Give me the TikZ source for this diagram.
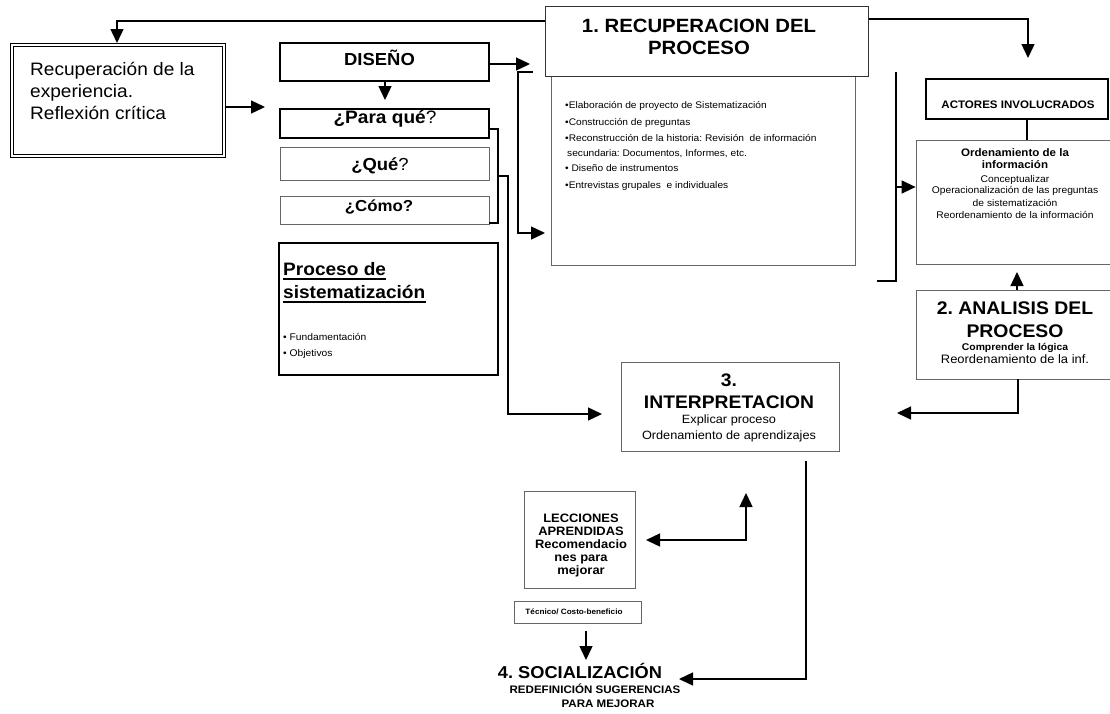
\documentclass[tikz,border=0pt]{standalone}
\usepackage{fontspec}
\setmainfont{Liberation Sans}[FakeStretch=1.06]
\usetikzlibrary{arrows.meta,calc}
\newcommand\fsz[2]{\fontsize{#1}{#2}\selectfont}
\frenchspacing
\begin{document}
\begin{tikzpicture}[x=1pt,y=-1pt,
  thickbox/.style={draw=black, line width=1.5pt, inner sep=0pt, fill=white},
  thinbox/.style={draw=black!60, line width=0.8pt, inner sep=0pt, fill=white},
  headbox/.style={draw=black!80, line width=1pt, inner sep=0pt, fill=white},
  conn/.style={line width=1.4pt, black},
  arr/.style={conn, -{Triangle[length=14pt,width=13pt]}},
  darr/.style={conn, {Triangle[length=14pt,width=13pt]}-{Triangle[length=14pt,width=13pt]}},
  lbl/.style={inner sep=0pt, anchor=base},
  lblw/.style={inner sep=0pt, anchor=base west},
]
\fill[white] (0,0) rectangle (1110,713);
\useasboundingbox (0,0) rectangle (1110,713);

% ---------- boxes ----------
\node[draw, double, line width=1pt, double distance=1.6pt, inner sep=0pt,
      minimum width=212pt, minimum height=111pt] (rec) at (118,100.5) {};
\node[thickbox, minimum width=209pt, minimum height=38pt] (diseno) at (384.5,62) {};
\node[thickbox, minimum width=209pt, minimum height=29pt] (para) at (384.5,123.5) {};
\node[thinbox, minimum width=209pt, minimum height=33pt] (que) at (384.5,163.5) {};
\node[thinbox, minimum width=209pt, minimum height=28pt] (como) at (384.5,210) {};
\node[thickbox, minimum width=219pt, minimum height=132pt] (proc) at (388.5,309) {};
\node[thinbox, minimum width=304pt, minimum height=189pt] (boxb) at (703,170.5) {};
\node[headbox, minimum width=323pt, minimum height=70pt] (boxh) at (706.5,41) {};
\node[thickbox, minimum width=182pt, minimum height=40pt] (actores) at (1017,99) {};
\node[thinbox, minimum width=195pt, minimum height=124pt] (orden) at (1013.5,202) {};
\node[thinbox, minimum width=195pt, minimum height=89pt] (analisis) at (1013.5,334.5) {};
\node[thinbox, minimum width=218pt, minimum height=89pt] (interp) at (730,406.5) {};
\node[thinbox, minimum width=111pt, minimum height=97pt] (lecc) at (579.5,539.5) {};
\node[thinbox, minimum width=127pt, minimum height=22pt] (tecn) at (577.5,612) {};

% ---------- texts ----------
\node[lblw, font=\fsz{18}{20}] (rt1) at (30,75) {Recuperación de la};
\node[lblw, font=\fsz{18}{20}] (rt2) at (30,97) {experiencia.};
\node[lblw, font=\fsz{18}{20}] (rt3) at (30,119) {Reflexión crítica};

\node[lbl, font=\fsz{17.4}{19}\bfseries] (dt) at (379.5,65) {DISEÑO};
\node[lbl, font=\fsz{18}{19}] (pt) at (385,123) {{\bfseries ¿Para qué}?};
\node[lbl, font=\fsz{17.4}{19}] (qt) at (380,170) {{\bfseries ¿Qué}?};
\node[lbl, font=\fsz{15.9}{18}\bfseries] (ct) at (379,211) {¿Cómo?};

\node[lblw, font=\fsz{18}{20}\bfseries] (p1) at (283,275) {Proceso de};
\node[lblw, font=\fsz{18}{20}\bfseries] (p2) at (283,298) {sistematización};
\draw[line width=1.3pt] ($(p1.base west)+(0,4)$) -- ($(p1.base east)+(0,4)$);
\draw[line width=1.3pt] ($(p2.base west)+(0,4)$) -- ($(p2.base east)+(0,4)$);
\node[lblw, font=\fsz{9.7}{11}] (pb1) at (283,340) {• Fundamentación};
\node[lblw, font=\fsz{9.7}{11}] (pb2) at (283,356) {• Objetivos};

\node[lbl, font=\fsz{19.2}{21}\bfseries] (h1) at (699,32) {1. RECUPERACION DEL};
\node[lbl, font=\fsz{19.2}{21}\bfseries] (h2) at (699,54) {PROCESO};
\node[lblw, font=\fsz{9.6}{11}] (u1) at (565,108) {•Elaboración de proyecto de Sistematización};
\node[lblw, font=\fsz{9.6}{11}] (u2) at (565,125) {•Construcción de preguntas};
\node[lblw, font=\fsz{9.6}{11}] (u3) at (565,141) {•Reconstrucción de la historia: Revisión\ \ de información};
\node[lblw, font=\fsz{9.6}{11}] (u4) at (567,156) {secundaria: Documentos, Informes, etc.};
\node[lblw, font=\fsz{9.6}{11}] (u5) at (565,171) {• Diseño de instrumentos};
\node[lblw, font=\fsz{9.6}{11}] (u6) at (565,188) {•Entrevistas grupales\ \ e individuales};

\node[lbl, font=\fsz{10.9}{12}\bfseries] (at) at (1018,108) {ACTORES INVOLUCRADOS};

\node[lbl, font=\fsz{10.9}{12}\bfseries] (o1) at (1015,156) {Ordenamiento de la};
\node[lbl, font=\fsz{10.9}{12}\bfseries] (o2) at (1015,168) {información};
\node[lbl, font=\fsz{9.7}{11}] (o3) at (1015,182) {Conceptualizar};
\node[lbl, font=\fsz{9.7}{11}] (o4) at (1015,193) {Operacionalización de las preguntas};
\node[lbl, font=\fsz{9.7}{11}] (o5) at (1015,206) {de sistematización};
\node[lbl, font=\fsz{9.7}{11}] (o6) at (1015,218) {Reordenamiento de la información};

\node[lbl, font=\fsz{18.3}{20}\bfseries] (n1) at (1015,314) {2. ANALISIS DEL};
\node[lbl, font=\fsz{18.3}{20}\bfseries] (n2) at (1015,337) {PROCESO};
\node[lbl, font=\fsz{9.8}{11}\bfseries] (n3) at (1015,350) {Comprender la lógica};
\node[lbl, font=\fsz{12.2}{13}] (n4) at (1015,363) {Reordenamiento de la inf.};

\node[lbl, font=\fsz{18.2}{20}\bfseries] (i1) at (729,386) {3.};
\node[lbl, font=\fsz{18.2}{20}\bfseries] (i2) at (729,408) {INTERPRETACION};
\node[lbl, font=\fsz{12}{13}] (i3) at (729,423) {Explicar proceso};
\node[lbl, font=\fsz{12}{13}] (i4) at (729,439) {Ordenamiento de aprendizajes};

\node[lbl, font=\fsz{12.2}{13}\bfseries] (l1) at (581,522) {LECCIONES};
\node[lbl, font=\fsz{12.2}{13}\bfseries] (l2) at (581,535) {APRENDIDAS};
\node[lbl, font=\fsz{12.2}{13}\bfseries] (l3) at (581,548) {Recomendacio};
\node[lbl, font=\fsz{12.2}{13}\bfseries] (l4) at (581,561) {nes para};
\node[lbl, font=\fsz{12.2}{13}\bfseries] (l5) at (581,574) {mejorar};

\node[lbl, font=\fsz{7.7}{9}\bfseries] (tt) at (574,614) {Técnico/ Costo-beneficio};

\node[lbl, font=\fsz{17.2}{19}\bfseries] (s1t) at (580,678) {4. SOCIALIZACIÓN};
\node[lbl, font=\fsz{10.9}{12}\bfseries] (s2t) at (595,693) {REDEFINICIÓN SUGERENCIAS};
\node[lbl, font=\fsz{10.9}{12}\bfseries] (s3t) at (608,707) {PARA MEJORAR};

% ---------- connectors ----------
\coordinate (t1) at (117,21);
\draw[arr] (boxh.west |- t1) -- (t1) -- (117,43);
\coordinate (t2) at (265,107);
\draw[arr] (rec.east |- t2) -- (t2);
\coordinate (t3) at (530,64);
\draw[arr] (diseno.east |- t3) -- (t3);
\coordinate (t4) at (385,100);
\draw[arr] (diseno.south -| t4) -- (t4);

\coordinate (b1) at (498,129);
\coordinate (b2) at (498,223);
\draw[conn] (para.east |- b1) -- (b1) -- (b2) -- (como.east |- b2);
\coordinate (q1) at (498,176);
\coordinate (q2) at (508,176);
\coordinate (q3) at (602,414);
\draw[arr] (q1) -- (q2) |- (q3);

\coordinate (k1) at (533,72);
\coordinate (k2) at (518,72);
\coordinate (k3) at (545,233);
\draw[arr] (k1) -- (k2) |- (k3);

\coordinate (t8) at (1028,19);
\coordinate (t8e) at (1028,58);
\draw[arr] (boxh.east |- t8) -- (t8) -- (t8e);

\coordinate (r1) at (896,72);
\coordinate (r2) at (896,281);
\coordinate (r3) at (877,281);
\draw[conn] (r1) -- (r2) -- (r3);
\coordinate (r4) at (896,187);
\draw[arr] (r4) -- (orden.west |- r4);

\coordinate (l10) at (1027,130);
\draw[conn] (actores.south -| l10) -- (orden.north -| l10);

\coordinate (a11) at (1017,272);
\draw[arr] (analisis.north -| a11) -- (a11);

\coordinate (a12) at (1018,413);
\coordinate (a12e) at (897,413);
\draw[arr] (analisis.south -| a12) -- (a12) -- (a12e);

\coordinate (s1) at (806,461);
\coordinate (s2) at (806,679);
\coordinate (s3) at (679,679);
\draw[arr] (s1) -- (s2) -- (s3);

\coordinate (d1) at (646,540);
\coordinate (d2) at (746,540);
\coordinate (d3) at (746,493);
\draw[darr] (d1) -- (d2) -- (d3);

\coordinate (e1) at (586,631);
\coordinate (e2) at (586,660);
\draw[arr] (e1) -- (e2);
\end{tikzpicture}
\end{document}
